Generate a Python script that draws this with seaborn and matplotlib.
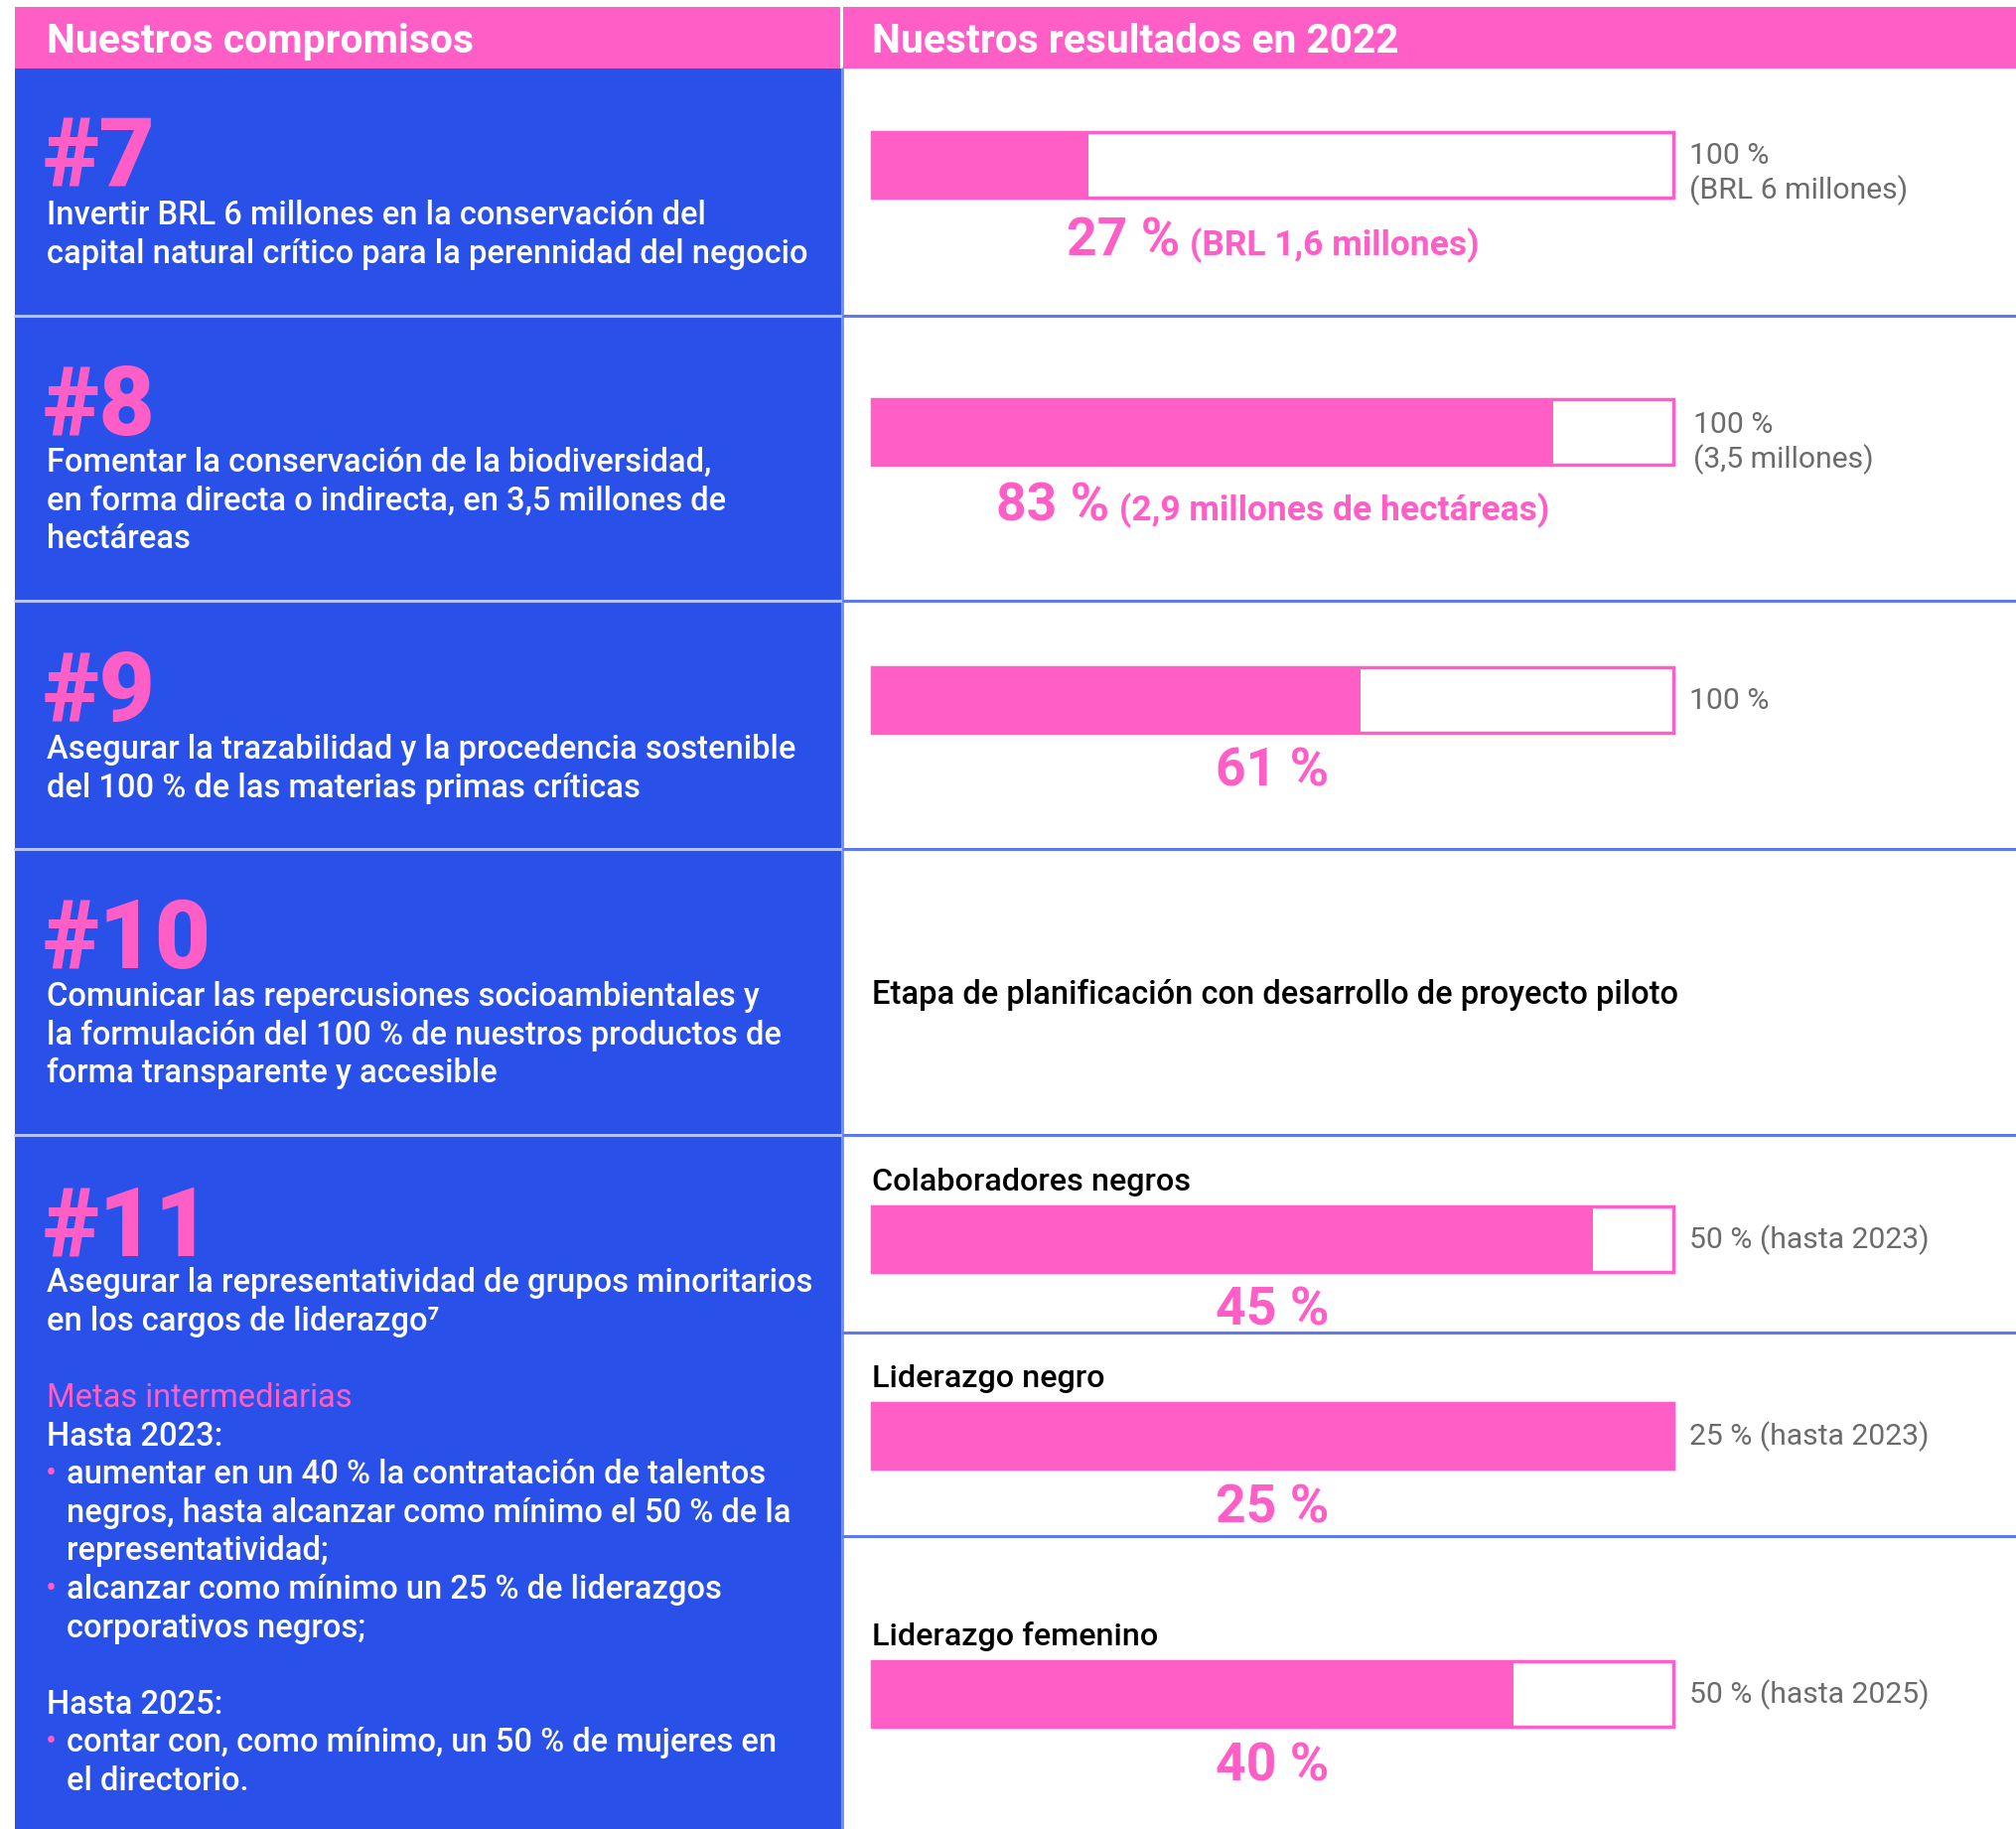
import matplotlib
matplotlib.use("Agg")
import matplotlib.pyplot as plt
import seaborn as sns
from matplotlib.patches import Rectangle
from matplotlib import font_manager

sns.set_theme(style="white")

# ---------------- data ----------------
commit_ids = ["#7", "#8", "#9", "#10", "#11"]
commit_texts = [
    ["Invertir BRL 6 millones en la conservación del",
     "capital natural crítico para la perennidad del negocio"],
    ["Fomentar la conservación de la biodiversidad,",
     "en forma directa o indirecta, en 3,5 millones de",
     "hectáreas"],
    ["Asegurar la trazabilidad y la procedencia sostenible",
     "del 100 % de las materias primas críticas"],
    ["Comunicar las repercusiones socioambientales y",
     "la formulación del 100 % de nuestros productos de",
     "forma transparente y accesible"],
    ["Asegurar la representatividad de grupos minoritarios",
     "en los cargos de liderazgo\u2077"],
]
metas_title = "Metas intermediarias"
metas_2023_head = "Hasta 2023:"
metas_2023_items = [
    ["aumentar en un 40 % la contratación de talentos",
     "negros, hasta alcanzar como mínimo el 50 % de la",
     "representatividad;"],
    ["alcanzar como mínimo un 25 % de liderazgos",
     "corporativos negros;"],
]
metas_2025_head = "Hasta 2025:"
metas_2025_items = [
    ["contar con, como mínimo, un 50 % de mujeres en",
     "el directorio."],
]

bar_titles = ["", "", "", "Colaboradores negros", "Liderazgo negro", "Liderazgo femenino"]
fill_fracs = [0.27, 0.85, 0.61, 0.90, 1.00, 0.80]
result_pct = ["27 %", "83 %", "61 %", "45 %", "25 %", "40 %"]
result_detail = ["(BRL 1,6 millones)", "(2,9 millones de hectáreas)", "", "", "", ""]
target_labels = [["100 %", "(BRL 6 millones)"], ["100 %", "(3,5 millones)"], ["100 %"],
                 ["50 % (hasta 2023)"], ["25 % (hasta 2023)"], ["50 % (hasta 2025)"]]
row10_text = "Etapa de planificación con desarrollo de proyecto piloto"
header_left = "Nuestros compromisos"
header_right = "Nuestros resultados en 2022"

# ---------------- style ----------------
BLUE = "#2A50EA"
PINK = "#FF5EC6"
GRAY = "#6B6B6B"
SEP_RIGHT = "#5C79EE"
SEP_LEFT = "#B4C2F7"

available = {f.name for f in font_manager.fontManager.ttflist}
cands = ["Roboto", "Open Sans", "DejaVu Sans"]
FAM = [c for c in cands if c in available] + ["DejaVu Sans"]
plt.rcParams["font.family"] = FAM

W, H = 2030, 1842
fig = plt.figure(figsize=(W / 100, H / 100), dpi=100)
fig.patch.set_facecolor("white")
bg = fig.add_axes([0, 0, 1, 1])
bg.set_xlim(0, W)
bg.set_ylim(H, 0)
bg.axis("off")

# panels
bg.add_patch(Rectangle((15, 7), W - 15, 62, color=PINK, lw=0))
bg.add_patch(Rectangle((846.5, 7), 2.5, 62, color="white", lw=0))
bg.add_patch(Rectangle((15, 69), 832, H - 69, color=BLUE, lw=0))
bg.plot([848, 848], [69, H], color="#6F8BF2", lw=2)

for y in [318, 605, 855, 1143]:
    bg.plot([15, 847], [y, y], color=SEP_LEFT, lw=2.2)
for y in [318, 605, 855, 1143, 1342, 1547]:
    bg.plot([849, W], [y, y], color=SEP_RIGHT, lw=2.2)

# headers
bg.text(47, 42, header_left, color="white", fontsize=29.3, fontweight="bold", va="center", ha="left")
bg.text(878, 42, header_right, color="white", fontsize=29.3, fontweight="bold", va="center", ha="left")

# left column
BODY = 23.5
BW = 500
LS = 38.6
id_centers = [162, 412, 700, 949, 1238]
first_base = [226, 475, 764, 1013, 1301]
for cid, yc, lines, yb in zip(commit_ids, id_centers, commit_texts, first_base):
    bg.text(44, yc, cid, color=PINK, fontsize=70, fontweight="heavy", va="center", ha="left")
    for i, ln in enumerate(lines):
        bg.text(47, yb + i * LS, ln, color="white", fontsize=BODY, fontweight=BW,
                va="baseline", ha="left")

y = 1417
bg.text(47, y, metas_title, color=PINK, fontsize=BODY, va="baseline", ha="left")
y += LS
bg.text(47, y, metas_2023_head, color="white", fontsize=BODY, fontweight=BW, va="baseline", ha="left")
for item in metas_2023_items:
    y += LS
    bg.text(46, y, "\u2022", color=PINK, fontsize=BODY, va="baseline", ha="left")
    for i, ln in enumerate(item):
        if i:
            y += LS
        bg.text(67, y, ln, color="white", fontsize=BODY, fontweight=BW, va="baseline", ha="left")
y += 2 * LS
bg.text(47, y, metas_2025_head, color="white", fontsize=BODY, fontweight=BW, va="baseline", ha="left")
for item in metas_2025_items:
    y += LS
    bg.text(46, y, "\u2022", color=PINK, fontsize=BODY, va="baseline", ha="left")
    for i, ln in enumerate(item):
        if i:
            y += LS
        bg.text(67, y, ln, color="white", fontsize=BODY, fontweight=BW, va="baseline", ha="left")

# right column bars
BX0, BX1 = 878, 1685
bar_tops = [132, 401, 671, 1214, 1412, 1672]
BH = 68
pct_base = [257, 524, 791, 1334, 1533, 1793]
title_base = [None, None, None, 1199, 1397, 1657]
renderer = fig.canvas.get_renderer()

for k in range(len(fill_fracs)):
    top = bar_tops[k]
    ax = fig.add_axes([BX0 / W, 1 - (top + BH) / H, (BX1 - BX0) / W, BH / H])
    sns.barplot(x=[1.0], y=[0], orient="h", color="white", edgecolor=PINK, linewidth=2.5,
                width=0.96, saturation=1, ax=ax)
    sns.barplot(x=[fill_fracs[k]], y=[0], orient="h", color=PINK, linewidth=0,
                width=1.0, saturation=1, ax=ax)
    ax.set_xlim(0, 1.0)
    ax.set_ylim(0.5, -0.5)
    for p in ax.patches:
        p.set_clip_on(False)
    ax.axis("off")

    yc = top + BH / 2
    tl = target_labels[k]
    if len(tl) == 1:
        bg.text(1701, yc + 1, tl[0], color=GRAY, fontsize=21.7, va="center", ha="left")
    else:
        off = 0 if k == 0 else 2
        xx = 1701 + 4 * (k == 1)
        bg.text(xx, yc - 1 + off, tl[0], color=GRAY, fontsize=21.7, va="baseline", ha="left")
        bg.text(xx, yc + 34 + off, tl[1], color=GRAY, fontsize=21.7, va="baseline", ha="left")

    cx = (BX0 + BX1) / 2
    t1 = bg.text(0, pct_base[k], result_pct[k], color=PINK, fontsize=38.5, fontweight="bold",
                 va="baseline", ha="left")
    if result_detail[k]:
        t2 = bg.text(0, pct_base[k], result_detail[k], color=PINK, fontsize=25.5, fontweight="bold",
                     va="baseline", ha="left")
        w1 = t1.get_window_extent(renderer).width
        w2 = t2.get_window_extent(renderer).width
        gap = 10
        start = cx - (w1 + gap + w2) / 2
        t1.set_x(start)
        t2.set_x(start + w1 + gap)
    else:
        t1.set_ha("center")
        t1.set_x(cx)

    if title_base[k] is not None:
        bg.text(878, title_base[k], bar_titles[k], color="black", fontsize=23.3, fontweight=BW,
                va="baseline", ha="left")

bg.text(878, 1002, row10_text, color="black", fontsize=23.5, fontweight=BW, va="center", ha="left")

fig.savefig("out.png", dpi=100, facecolor="white")
